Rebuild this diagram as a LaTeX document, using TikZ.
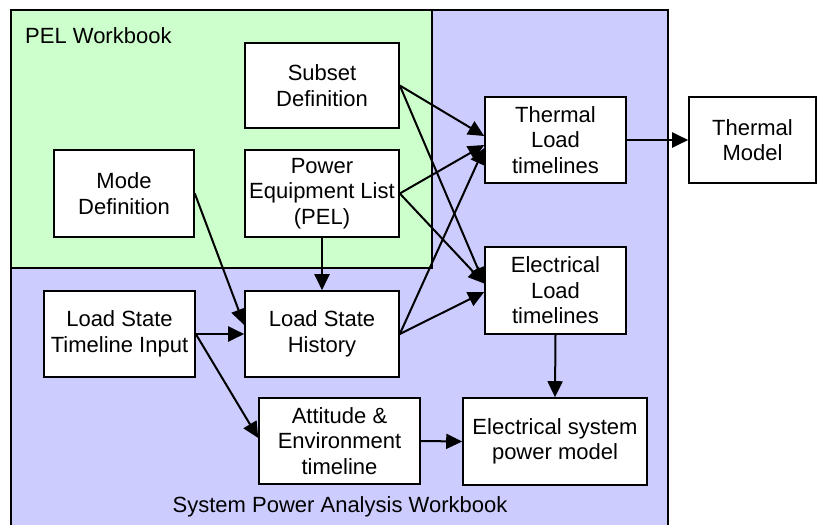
\documentclass[tikz,border=0pt]{standalone}
\usepackage{fontspec}
\setmainfont{Liberation Sans}
\usetikzlibrary{arrows.meta,calc}
\definecolor{pelgreen}{RGB}{204,255,204}
\definecolor{spablue}{RGB}{204,204,255}
\begin{document}
\begin{tikzpicture}[x=1pt,y=-1pt,
  box/.style={draw=black,line width=1.6pt,fill=white,inner sep=0pt,align=center,
    font=\fontsize{22}{25.5}\selectfont},
  conn/.style={line width=2pt,-{Triangle[length=16pt,width=15pt]}},
  lbl/.style={inner sep=0pt,font=\fontsize{22}{25.5}\selectfont}]
\useasboundingbox (0,0) rectangle (817,525);
% workbook regions
\draw[line width=1.6pt,fill=spablue] (11,10) rectangle (668,540);
\draw[line width=1.6pt,fill=pelgreen] (11,10) rectangle (432,268);
\node[lbl,anchor=base west] (pelwb) at (25,43) {PEL Workbook};
\node[lbl,anchor=base] (spawb) at (340,512) {System Power Analysis Workbook};
% boxes
\node[box,minimum width=154pt,minimum height=85pt] (subset) at (322,85.5) {Subset\\Definition};
\node[box,minimum width=140pt,minimum height=87pt] (mode) at (124,193.5) {Mode\\Definition};
\node[box,minimum width=154pt,minimum height=87pt] (pel) at (322,193.5) {Power\\Equipment List\\(PEL)};
\node[box,minimum width=151pt,minimum height=86pt] (lsti) at (119.5,334) {Load State\\Timeline Input};
\node[box,minimum width=154pt,minimum height=86pt] (lsh) at (322,334) {Load State\\History};
\node[box,minimum width=161pt,minimum height=86pt] (att) at (339.5,441) {Attitude \&\\Environment\\timeline};
\node[box,minimum width=141pt,minimum height=86pt] (thl) at (555.5,140) {Thermal\\Load\\timelines};
\node[box,minimum width=141pt,minimum height=87pt] (ell) at (555.5,290.5) {Electrical\\Load\\timelines};
\node[box,minimum width=127pt,minimum height=86pt] (thm) at (752.5,140) {Thermal\\Model};
\node[box,minimum width=184pt,minimum height=87pt] (esm) at (555,441.5) {Electrical system\\power model};
% connectors
\draw[conn] (subset.east) -- ([yshift=4pt]thl.west);
\draw[conn] (subset.east) -- ([yshift=7pt]ell.west);
\draw[conn] (pel.east) -- ([yshift=-5pt]thl.west);
\draw[conn] (pel.east) -- ([yshift=7pt]ell.west);
\draw[conn] (lsh.east) -- ([yshift=-8pt]thl.west);
\draw[conn] (lsh.east) -- ([yshift=-1.5pt]ell.west);
\draw[conn] (mode.east) -- ([yshift=9pt]lsh.west);
\draw[conn] (pel.south) -- (lsh.north);
\draw[conn] (lsti.east) -- (lsh.west);
\draw[conn] (lsti.east) -- ([yshift=3pt]att.west);
\draw[conn] (att.east) -- (esm.west);
\draw[conn] (ell.south) -- (esm.north);
\draw[conn] (thl.east) -- (thm.west);
\end{tikzpicture}
\end{document}
